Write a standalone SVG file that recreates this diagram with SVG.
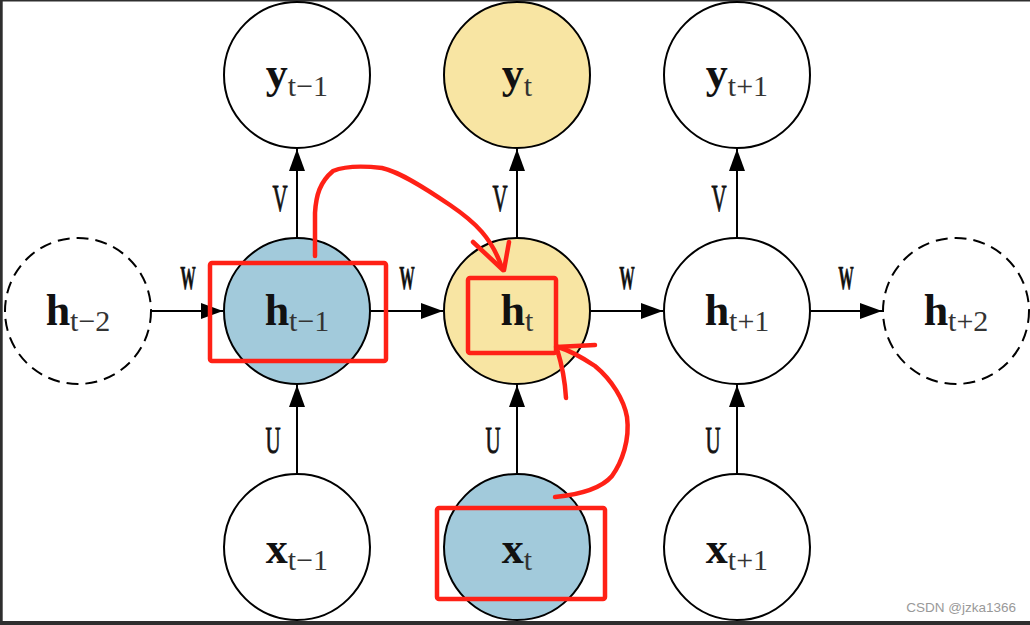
<svg xmlns="http://www.w3.org/2000/svg" width="1030" height="625" viewBox="0 0 1030 625">
<style>
.node{stroke:#000;stroke-width:2;fill:#fff}
.dash{stroke-dasharray:12 7}
.blue{fill:#a2cadb}
.yellow{fill:#f8e5a3}
.main{font-family:"Liberation Serif",serif;font-weight:bold;font-size:44px;fill:#111}
.sub{font-family:"Liberation Serif",serif;font-weight:normal;font-size:30px;fill:#333}
.lbl{font-family:"Liberation Serif",serif;font-size:38px;fill:#111;stroke:#111;stroke-width:0.9}
.lblw{font-family:"Liberation Serif",serif;font-weight:bold;font-size:33px;fill:#111;stroke:#111;stroke-width:0.6}
.conn line{stroke:#000;stroke-width:2;marker-end:url(#arr)}
.red{fill:none;stroke:#ff2116;stroke-width:4.5;stroke-linecap:round;stroke-linejoin:round}
</style>
<defs>
<marker id="arr" markerUnits="userSpaceOnUse" markerWidth="24" markerHeight="16" refX="22" refY="8" orient="auto">
<path d="M0,0 L22,8 L0,16 Z" fill="#000"/>
</marker>
</defs>
<rect x="0" y="0" width="1030" height="625" fill="#fff"/>
<g id="border" fill="#2e2e2e">
<rect x="0" y="0" width="1030" height="1.5"/>
<rect x="0" y="0" width="2.7" height="625"/>
<rect x="0" y="621" width="1030" height="4"/>
</g>
<g id="connectors" class="conn">
<line x1="152" y1="311" x2="223" y2="311"/>
<line x1="371" y1="311" x2="443" y2="311"/>
<line x1="591" y1="311" x2="663" y2="311"/>
<line x1="811" y1="311" x2="882" y2="311"/>
<line x1="297" y1="237" x2="297" y2="149"/>
<line x1="517" y1="237" x2="517" y2="149"/>
<line x1="737" y1="237" x2="737" y2="149"/>
<line x1="297" y1="474" x2="297" y2="385"/>
<line x1="517" y1="474" x2="517" y2="385"/>
<line x1="737" y1="474" x2="737" y2="385"/>
</g>
<g id="labels">
<text class="lbl" text-anchor="middle" transform="translate(280,211) scale(0.55,1)">V</text>
<text class="lbl" text-anchor="middle" transform="translate(500,211) scale(0.55,1)">V</text>
<text class="lbl" text-anchor="middle" transform="translate(719,211) scale(0.55,1)">V</text>
<text class="lbl" text-anchor="middle" transform="translate(273,453) scale(0.55,1)">U</text>
<text class="lbl" text-anchor="middle" transform="translate(493,453) scale(0.55,1)">U</text>
<text class="lbl" text-anchor="middle" transform="translate(713,453) scale(0.55,1)">U</text>
<text class="lblw" text-anchor="middle" transform="translate(188,289) scale(0.47,1)">W</text>
<text class="lblw" text-anchor="middle" transform="translate(407,289) scale(0.47,1)">W</text>
<text class="lblw" text-anchor="middle" transform="translate(627,289) scale(0.47,1)">W</text>
<text class="lblw" text-anchor="middle" transform="translate(846,289) scale(0.47,1)">W</text>
</g>
<g id="y_tm1"><circle class="node" cx="297" cy="75" r="73"/><text class="main" x="297" y="88" text-anchor="middle">y<tspan class="sub" dy="8">t−1</tspan></text></g>
<g id="y_t"><circle class="node yellow" cx="517" cy="75" r="73"/><text class="main" x="517" y="88" text-anchor="middle">y<tspan class="sub" dy="8">t</tspan></text></g>
<g id="y_tp1"><circle class="node" cx="737" cy="75" r="73"/><text class="main" x="737" y="88" text-anchor="middle">y<tspan class="sub" dy="8">t+1</tspan></text></g>
<g id="h_tm2"><circle class="node dash" cx="78" cy="311" r="73"/><text class="main" x="78" y="325" text-anchor="middle">h<tspan class="sub" dy="6">t−2</tspan></text></g>
<g id="h_tm1"><circle class="node blue" cx="297" cy="311" r="73"/><text class="main" x="297" y="325" text-anchor="middle">h<tspan class="sub" dy="6">t−1</tspan></text></g>
<g id="h_t"><circle class="node yellow" cx="517" cy="311" r="73"/><text class="main" x="517" y="325" text-anchor="middle">h<tspan class="sub" dy="6">t</tspan></text></g>
<g id="h_tp1"><circle class="node" cx="737" cy="311" r="73"/><text class="main" x="737" y="325" text-anchor="middle">h<tspan class="sub" dy="6">t+1</tspan></text></g>
<g id="h_tp2"><circle class="node dash" cx="956" cy="311" r="73"/><text class="main" x="956" y="325" text-anchor="middle">h<tspan class="sub" dy="6">t+2</tspan></text></g>
<g id="x_tm1"><circle class="node" cx="297" cy="547" r="73"/><text class="main" x="297" y="563" text-anchor="middle">x<tspan class="sub" dy="7">t−1</tspan></text></g>
<g id="x_t"><circle class="node blue" cx="517" cy="547" r="73"/><text class="main" x="517" y="563" text-anchor="middle">x<tspan class="sub" dy="7">t</tspan></text></g>
<g id="x_tp1"><circle class="node" cx="737" cy="547" r="73"/><text class="main" x="737" y="563" text-anchor="middle">x<tspan class="sub" dy="7">t+1</tspan></text></g>
<g id="annotations" class="red">
<rect x="210" y="263" width="176" height="98" rx="2"/>
<rect x="468" y="278" width="88" height="75" rx="2"/>
<rect x="437" y="508" width="168" height="91" rx="2"/>
<path d="M315,256 L315,213 C316,195 320,182 333,171 C345,166 365,166 382,168 C400,172 425,188 450,205 C475,222 492,238 502,268"/>
<path d="M473,242 L503,270 M509,242 L504,270"/>
<path d="M555,497 C575,495 600,490 612,476 C622,462 630,440 627,417 C624,400 612,380 595,366 C580,356 568,350 558,347"/>
<path d="M556,347 L595,345 M557,349 C562,365 565,380 566,398"/>
</g>
<text x="1016" y="612" text-anchor="end" font-family="Liberation Sans,Arial,sans-serif" font-size="13.5" fill="#999">CSDN @jzka1366</text>
</svg>
